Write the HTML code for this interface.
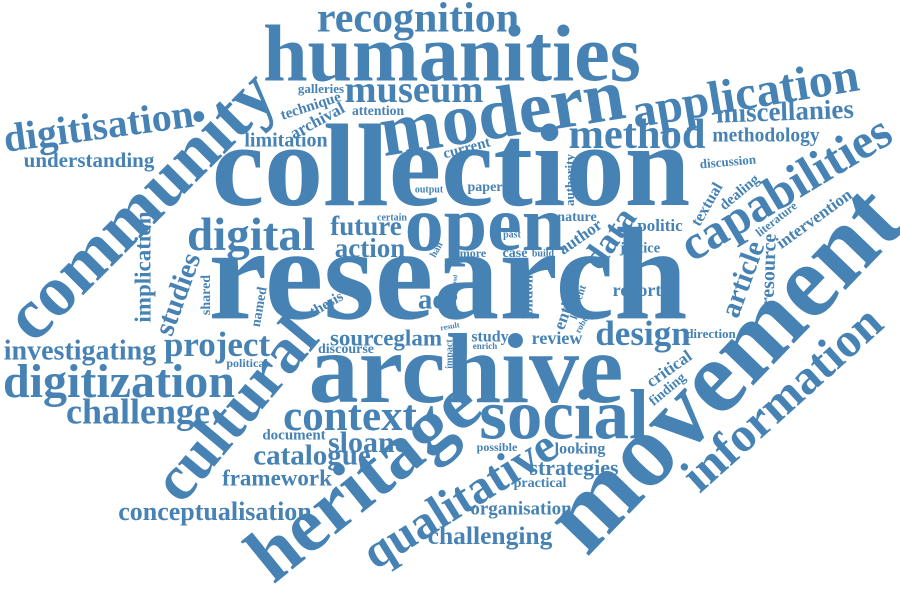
<!DOCTYPE html>
<html>
<head>
<meta charset="utf-8">
<style>
  html, body { margin: 0; padding: 0; background: #ffffff; }
  #cloud { display: block; }
  #cloud text { font-family: "Liberation Serif", "DejaVu Serif", serif; font-weight: bold; fill: #4682b4; }
</style>
</head>
<body>
<svg id="cloud" width="900" height="596" viewBox="0 0 900 596" xmlns="http://www.w3.org/2000/svg">
  <g id="words"></g>
</svg>
<script>
const words = ["research","collection","archive","humanities","modern","open","social","heritage","movement","community","cultural","capabilities","information","application","qualitative","digitisation","digital","method","recognition","museum","digitization","investigating","project","challenge","context","sloane","catalogue","framework","conceptualisation","understanding","miscellanies","methodology","design","studies","implication","future","action","acc","sourceglam","discourse","political","galleries","technique","archival","attention","limitation","current","output","paper","authority","certain","nature","politic","author","data","past","han","more","case","build","justice","inform","state","london","entity","present","robust","report","result","study","enrich","review","impact","critical","finding","direction","discussion","textual","dealing","literature","intervention","article","resource","possible","looking","strategies","practical","organisation","challenging","document","shared","named","thesis","field","fund"];
const weights = [132,118,100,80,74,78,71,78,104,72,64,49,49,48,48,40,47,42.5,42,38.5,48,28,35,36,43,30,29,23,26,21,27,19.5,35,29,23,27,27,29,23,14,12,13,15,17,13.6,20,15,10,14,13,10,14,17,17,35,10,10,12,14,10,14.5,9,9,15,17,11,9,18,8,16,9,18,10,17,14,13,13,16,15,12,17,29,20,12,16,22,14,19,25.5,15,14,14,15,7,6];
const xs = [448,451,466,452,503,485,564,368,730,145,240,788,785,746,462,99,251,637,418,414,119,80,217,138,350,368,312,277,215,89,785,766,643,180,145,366,370,438,386,346,247,321,311,318,378,286,467,429,485,571,392,577,660,581,612,512,437,473,515,543,640,390,520,529,567,578,584,637,450,490,485,557,450,670,668,711,728,708,740,777,815,745,770,497,580,574,540,521,490,294,207,260,327,483,455];
const ys = [288,178,379,62,120,232,422,485,375,210,413,192,402,98,503,130,239,138,22,93,386,353,348,415,420,445,458,480,514,162,114,137,337,295,267,229,251,302,340,350,364,90,107,122,112,142,149,190,188,180,218,218,227,238,240,235,250,254,254,254,249,275,282,297,310,302,322,292,327,338,347,340,354,370,390,335,163,205,193,220,220,280,270,448,450,470,484,510,538,436,295,307,305,276,281];
const rots = [0,0,0,0,-9,0,0,-39,-46,-45,-50,-31,-42,-9.5,-32,-7.7,0,0,0,0,0,0,0,0,0,0,0,0,0,0,-2,0,0,-70,-90,0,0,0,0,0,0,0,-18,-28,0,0,-15,0,0,-90,0,0,0,-35,-55,0,-60,0,0,0,0,-90,-70,-90,-70,-70,-60,0,-10,0,0,0,-90,-35,-40,0,-5,-60,-40,-38,-36,-70,-88,0,0,0,0,0,0,0,-90,-80,-30,-20,-80];

function sizeScale(w) { return w; }

const g = document.getElementById('words');
const NS = 'http://www.w3.org/2000/svg';
for (let i = 0; i < words.length; i++) {
  const t = document.createElementNS(NS, 'text');
  const fs = sizeScale(weights[i]);
  t.setAttribute('x', xs[i]);
  t.setAttribute('y', ys[i]);
  t.setAttribute('dy', (0.23 * fs).toFixed(2));
  t.setAttribute('text-anchor', 'middle');
  t.setAttribute('font-size', fs);
  if (rots[i] !== 0) t.setAttribute('transform', 'rotate(' + rots[i] + ' ' + xs[i] + ' ' + ys[i] + ')');
  t.textContent = words[i];
  
  
  g.appendChild(t);
}
</script>
</body>
</html>
